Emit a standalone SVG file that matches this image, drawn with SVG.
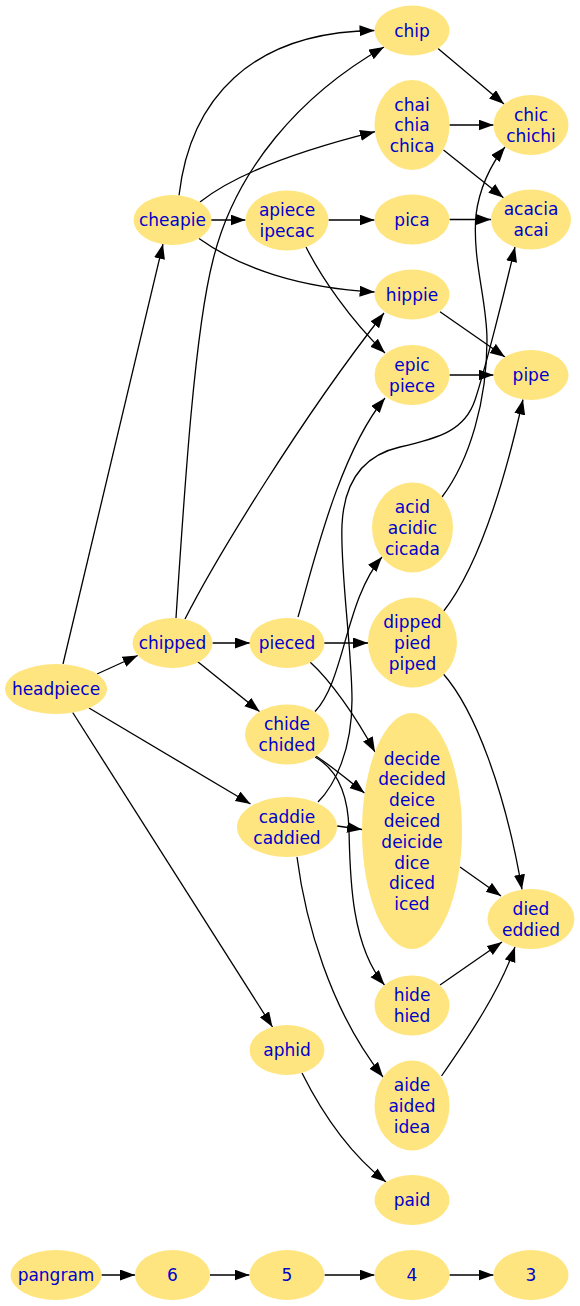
<svg xmlns="http://www.w3.org/2000/svg" width="580" height="1306" viewBox="0 0 580 1306">
<style>
.n ellipse{fill:#ffe57f;stroke:none}
.n text{font-family:"DejaVu Sans","Liberation Sans",sans-serif;font-size:17px;fill:#0000cd;text-anchor:middle}
.e path{fill:none;stroke:#000;stroke-width:1.3;marker-end:url(#ah)}
</style>
<defs>
<marker id="ah" markerUnits="userSpaceOnUse" markerWidth="16" markerHeight="12" refX="15" refY="5.5" orient="auto">
<path d="M0,0 L15,5.5 L0,11 Z" fill="#000"/>
</marker>
</defs>
<rect width="580" height="1306" fill="#fff"/>
<g id="edges" class="e">
<path d="M63,664 L163,244"/>
<path d="M97,674 L137.7,655.5"/>
<path d="M89,708 L250.5,804"/>
<path d="M72.7,712.5 L272.5,1027"/>
<path d="M179,195.5 C190,100 250,32 374.5,30.5"/>
<path d="M200,202 C240,170 310,148 375,131.7"/>
<path d="M210.5,220 L245.5,220"/>
<path d="M199,238.5 C240,268 300,288 374.6,292"/>
<path d="M176,618 C185,480 195,330 213,260 C235,170 300,95 384,47"/>
<path d="M185,619 C215,560 300,420 384,313"/>
<path d="M212.5,643 L250,643"/>
<path d="M197.5,661.5 L259.5,711.5"/>
<path d="M328.5,220 L374.5,220"/>
<path d="M306,247 C320,275 350,320 385,353"/>
<path d="M298,617 C312,570 338,455 385,398"/>
<path d="M324,643 L368,643"/>
<path d="M310,662 C330,680 355,715 375,752"/>
<path d="M315,711.5 C345,680 345,600 382,557"/>
<path d="M318,802 C335,785 352,750 352,700 C352,650 340,570 342,525 C344,480 365,455 400,447 C440,438 465,430 475,400 C485,370 505,290 515,247"/>
<path d="M442,497 C470,460 487,400 487,340 C487,300 472,260 476,215 C479,190 490,165 505,147"/>
<path d="M316,756 C330,765 348,780 364.5,793"/>
<path d="M315,757 C335,768 348,790 349,830 C350,870 350,945 384.5,985"/>
<path d="M337.3,826 L362,829.5"/>
<path d="M297,857 C305,920 330,1010 383,1077"/>
<path d="M443,612 C480,565 505,480 523,399.5"/>
<path d="M443,673.5 C475,710 505,790 522,889.5"/>
<path d="M460,867 L501,896"/>
<path d="M440,985 L502,942"/>
<path d="M441.5,1076 C470,1035 500,990 515,947"/>
<path d="M302,1073 C318,1105 345,1150 386,1182"/>
<path d="M438,48.5 L504,104"/>
<path d="M449.5,125 L493.5,125"/>
<path d="M443.5,150 L503.5,197.7"/>
<path d="M449.5,219.5 L491,219.5"/>
<path d="M440,311.7 L505,357"/>
<path d="M449.5,375 L493.5,375"/>
<path d="M101.5,1275 L135,1275"/>
<path d="M210,1275 L249.5,1275"/>
<path d="M324.5,1275 L374.5,1275"/>
<path d="M449.5,1275 L493.5,1275"/>
</g>
<g id="headpiece" class="n"><ellipse cx="56" cy="689" rx="51" ry="25"/><text x="56" y="695.3">headpiece</text></g>
<g id="cheapie" class="n"><ellipse cx="172.5" cy="220" rx="39" ry="25"/><text x="172.5" y="226.3">cheapie</text></g>
<g id="chipped" class="n"><ellipse cx="172.5" cy="643" rx="40" ry="25"/><text x="172.5" y="649.3">chipped</text></g>
<g id="apiece" class="n"><ellipse cx="287" cy="220.5" rx="41.5" ry="30"/><text x="287" y="216.4">apiece<tspan x="287" dy="20.8">ipecac</tspan></text></g>
<g id="pieced" class="n"><ellipse cx="287" cy="643" rx="37.5" ry="25"/><text x="287" y="649.3">pieced</text></g>
<g id="chide" class="n"><ellipse cx="287" cy="734.5" rx="42" ry="30"/><text x="287" y="730.4">chide<tspan x="287" dy="20.8">chided</tspan></text></g>
<g id="caddie" class="n"><ellipse cx="287" cy="827" rx="50" ry="30"/><text x="287" y="822.9">caddie<tspan x="287" dy="20.8">caddied</tspan></text></g>
<g id="aphid" class="n"><ellipse cx="287" cy="1050" rx="37.5" ry="25"/><text x="287" y="1056.3">aphid</text></g>
<g id="chip" class="n"><ellipse cx="412" cy="30.5" rx="37.5" ry="25"/><text x="412" y="36.8">chip</text></g>
<g id="chai" class="n"><ellipse cx="412" cy="125" rx="37.5" ry="45"/><text x="412" y="110.5">chai<tspan x="412" dy="20.8">chia</tspan><tspan x="412" dy="20.8">chica</tspan></text></g>
<g id="pica" class="n"><ellipse cx="412" cy="219.5" rx="37.5" ry="25"/><text x="412" y="225.8">pica</text></g>
<g id="hippie" class="n"><ellipse cx="412" cy="294.5" rx="37.5" ry="25"/><text x="412" y="300.8">hippie</text></g>
<g id="epic" class="n"><ellipse cx="412" cy="375" rx="37.5" ry="30"/><text x="412" y="370.9">epic<tspan x="412" dy="20.8">piece</tspan></text></g>
<g id="acid" class="n"><ellipse cx="412.5" cy="527.5" rx="40.5" ry="45"/><text x="412.5" y="513">acid<tspan x="412.5" dy="20.8">acidic</tspan><tspan x="412.5" dy="20.8">cicada</tspan></text></g>
<g id="dipped" class="n"><ellipse cx="412.5" cy="642.5" rx="44.5" ry="45"/><text x="412.5" y="628">dipped<tspan x="412.5" dy="20.8">pied</tspan><tspan x="412.5" dy="20.8">piped</tspan></text></g>
<g id="decide" class="n"><ellipse cx="412" cy="831" rx="50" ry="118"/><text x="412" y="764.5">decide<tspan x="412" dy="20.8">decided</tspan><tspan x="412" dy="20.8">deice</tspan><tspan x="412" dy="20.8">deiced</tspan><tspan x="412" dy="20.8">deicide</tspan><tspan x="412" dy="20.8">dice</tspan><tspan x="412" dy="20.8">diced</tspan><tspan x="412" dy="20.8">iced</tspan></text></g>
<g id="hide" class="n"><ellipse cx="412" cy="1005.5" rx="37.5" ry="30"/><text x="412" y="1001.4">hide<tspan x="412" dy="20.8">hied</tspan></text></g>
<g id="aide" class="n"><ellipse cx="412" cy="1105.5" rx="37.5" ry="45"/><text x="412" y="1091">aide<tspan x="412" dy="20.8">aided</tspan><tspan x="412" dy="20.8">idea</tspan></text></g>
<g id="paid" class="n"><ellipse cx="412" cy="1200" rx="37.5" ry="25"/><text x="412" y="1206.3">paid</text></g>
<g id="chic" class="n"><ellipse cx="531" cy="125" rx="37.5" ry="30"/><text x="531" y="120.9">chic<tspan x="531" dy="20.8">chichi</tspan></text></g>
<g id="acacia" class="n"><ellipse cx="531" cy="219.5" rx="40" ry="30"/><text x="531" y="215.4">acacia<tspan x="531" dy="20.8">acai</tspan></text></g>
<g id="pipe" class="n"><ellipse cx="531" cy="375" rx="37.5" ry="25"/><text x="531" y="381.3">pipe</text></g>
<g id="died" class="n"><ellipse cx="531" cy="919" rx="43.5" ry="30"/><text x="531" y="914.9">died<tspan x="531" dy="20.8">eddied</tspan></text></g>
<g id="pangram" class="n"><ellipse cx="56" cy="1275" rx="45.5" ry="25"/><text x="56" y="1281.3">pangram</text></g>
<g id="n6" class="n"><ellipse cx="172.5" cy="1275" rx="37.5" ry="25"/><text x="172.5" y="1281.3">6</text></g>
<g id="n5" class="n"><ellipse cx="287" cy="1275" rx="37.5" ry="25"/><text x="287" y="1281.3">5</text></g>
<g id="n4" class="n"><ellipse cx="412" cy="1275" rx="37.5" ry="25"/><text x="412" y="1281.3">4</text></g>
<g id="n3" class="n"><ellipse cx="531" cy="1275" rx="37.5" ry="25"/><text x="531" y="1281.3">3</text></g>
</svg>
